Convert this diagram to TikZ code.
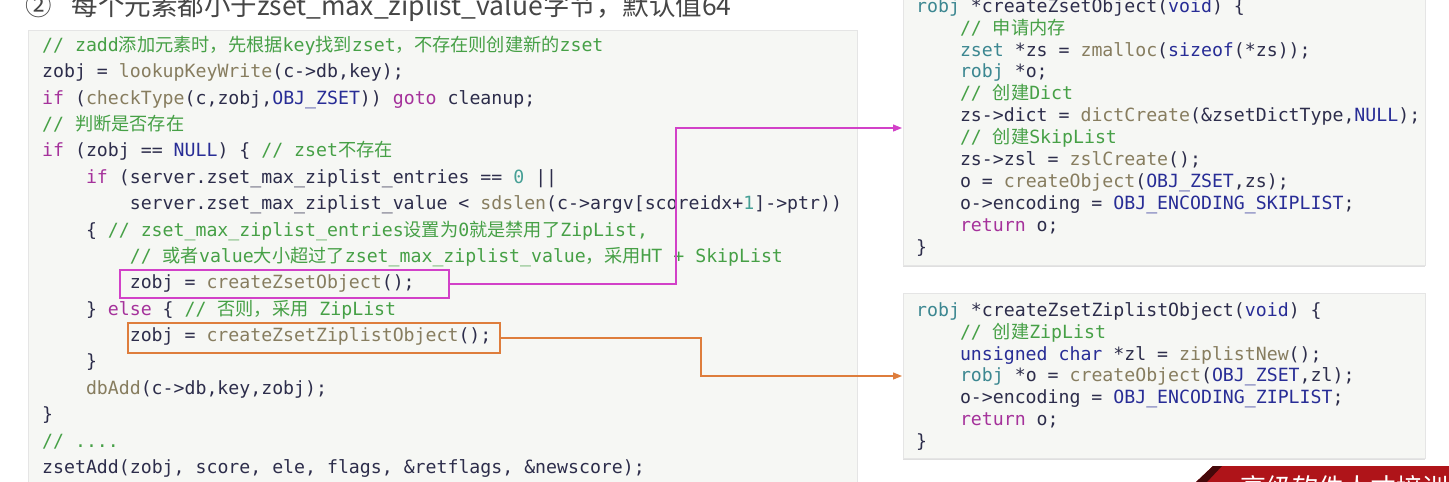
\documentclass[tikz,border=0pt]{standalone}
\usepackage{fontspec}
\setmonofont{DejaVu Sans Mono}
\newfontfamily\cjk{Noto Sans CJK SC}
\usetikzlibrary{positioning, arrows.meta, shadows}

\definecolor{cmt}{RGB}{70,160,70}
\definecolor{kwd}{RGB}{165,50,155}
\definecolor{fnc}{RGB}{135,125,95}
\definecolor{cst}{RGB}{40,45,150}
\definecolor{num}{RGB}{70,160,150}
\definecolor{typ}{RGB}{60,135,145}
\definecolor{idt}{RGB}{45,45,75}
\definecolor{paper}{RGB}{246,247,244}
\definecolor{headgray}{RGB}{70,70,70}
\definecolor{mag}{RGB}{210,65,200}
\definecolor{org}{RGB}{222,125,60}
\definecolor{banner}{RGB}{175,20,25}

\newcommand\zh[1]{{\cjk #1}}
\newcommand\ckw[1]{\textcolor{kwd}{#1}}
\newcommand\cfn[1]{\textcolor{fnc}{#1}}
\newcommand\ccst[1]{\textcolor{cst}{#1}}
\newcommand\cnum[1]{\textcolor{num}{#1}}
\newcommand\ctyp[1]{\textcolor{typ}{#1}}
\newcommand\ccmt[1]{\textcolor{cmt}{#1}}
\newcommand\ind{\hspace*{43.8pt}}
% full-width spaces in the code, and a fixed first line height
\newcommand\firstline{\spaceskip=10.96pt\xspaceskip=10.96pt\relax\rule{0pt}{17pt}}

\begin{document}
\begin{tikzpicture}[x=1pt, y=-1pt,
    panel/.style={fill=paper, draw=black!10, anchor=north west, inner sep=0pt,
      drop shadow={shadow xshift=0pt, shadow yshift=-2pt, opacity=.25}},
    src/.style={anchor=north west, inner sep=0pt, text=idt, align=left,
      font=\ttfamily\fontsize{18.2}{#1}\selectfont},
    src/.default=26.4,
    headtxt/.style={anchor=base west, inner sep=0pt, text=headgray,
      font=\cjk\fontsize{26.5}{26.5}\selectfont},
    hl/.style={draw, line width=1.8pt, inner sep=0pt},
    link/.style={line width=1.2pt, -{Triangle[length=9pt, width=7pt]}}]
\useasboundingbox (0,0) rectangle (1449,482);
\clip (0,0) rectangle (1449,482);
\fill[white] (0,0) rectangle (1449,482);

\node[headtxt] (heading) at (25,15) {②\hspace{20pt}每个元素都小于zset\_max\_ziplist\_value字节，默认值64};

% code panels
\node[panel, minimum width=829pt, minimum height=480pt] (box_main) at (28,30) {};
\node[panel, minimum width=522pt, minimum height=275pt] (box_zs) at (903,-10) {};
\node[panel, minimum width=522pt, minimum height=165pt] (box_zl) at (903,293) {};

\node[src, text width=810pt, below right=4pt and 14pt of box_main.north west] (code_main) {%
\firstline\ccmt{// zadd\zh{添加元素时，先根据}key\zh{找到}zset\zh{，不存在则创建新的}zset}\\
zobj = \cfn{lookupKeyWrite}(c->db,key);\\
\ckw{if} (\cfn{checkType}(c,zobj,\ccst{OBJ\_ZSET})) \ckw{goto} cleanup;\\
\ccmt{// \zh{判断是否存在}}\\
\ckw{if} (zobj == \ccst{NULL}) \{ \ccmt{// zset\zh{不存在}}\\
\ind\ckw{if} (server.zset\_max\_ziplist\_entries == \cnum{0} ||\\
\ind\ind server.zset\_max\_ziplist\_value < \cfn{sdslen}(c->argv[scoreidx+\cnum{1}]->ptr))\\
\ind\{ \ccmt{// zset\_max\_ziplist\_entries\zh{设置为}0\zh{就是禁用了}ZipList,}\\
\ind\ind\ccmt{// \zh{或者}value\zh{大小超过了}zset\_max\_ziplist\_value\zh{，采用}HT + SkipList}\\
\ind\ind zobj = \cfn{createZsetObject}();\\
\ind\} \ckw{else} \{ \ccmt{// \zh{否则，采用} ZipList}\\
\ind\ind zobj = \cfn{createZsetZiplistObject}();\\
\ind\}\\
\ind\cfn{dbAdd}(c->db,key,zobj);\\
\}\\
\ccmt{// ....}\\
zsetAdd(zobj, score, ele, flags, \&retflags, \&newscore);};

\node[src=21.9, text width=505pt, below right=5pt and 13pt of box_zs.north west] (code_zs) {%
\firstline\ctyp{robj} *createZsetObject(\ccst{void}) \{\\
\ind\ccmt{// \zh{申请内存}}\\
\ind\ctyp{zset} *zs = \cfn{zmalloc}(\ccst{sizeof}(*zs));\\
\ind\ctyp{robj} *o;\\
\ind\ccmt{// \zh{创建}Dict}\\
\ind zs->dict = \cfn{dictCreate}(\&zsetDictType,\ccst{NULL});\\
\ind\ccmt{// \zh{创建}SkipList}\\
\ind zs->zsl = \cfn{zslCreate}();\\
\ind o = \cfn{createObject}(\ccst{OBJ\_ZSET},zs);\\
\ind o->encoding = \ccst{OBJ\_ENCODING\_SKIPLIST};\\
\ind\ckw{return} o;\\
\}};

\node[src=21.9, text width=505pt, below right=6pt and 13pt of box_zl.north west] (code_zl) {%
\firstline\ctyp{robj} *createZsetZiplistObject(\ccst{void}) \{\\
\ind\ccmt{// \zh{创建}ZipList}\\
\ind\ccst{unsigned char} *zl = \cfn{ziplistNew}();\\
\ind\ctyp{robj} *o = \cfn{createObject}(\ccst{OBJ\_ZSET},zl);\\
\ind o->encoding = \ccst{OBJ\_ENCODING\_ZIPLIST};\\
\ind\ckw{return} o;\\
\}};

% highlighted calls and links
\node[hl, draw=mag, minimum width=329pt, minimum height=28pt] (hl_zs) at (284.5,284) {};
\node[hl, draw=org, minimum width=372pt, minimum height=30pt] (hl_zl) at (314,338) {};
\coordinate (in_zs) at (902,128);
\coordinate (in_zl) at (902,376);
\draw[link, mag] (hl_zs.east) -| ([xshift=-226pt]in_zs) -- (in_zs);
\draw[link, org] (hl_zl.east) -| ([xshift=-201pt]in_zl) -- (in_zl);

% watermark
\fill[banner] (1195,483) -- (1213,466) -- (1450,466) -- (1450,483) -- cycle;
\fill[black!60!banner] (1195,483) -- (1213,466) -- (1222,466) -- (1206,483) -- cycle;
\node[anchor=base west, inner sep=0pt, text=white, font=\cjk\fontsize{26}{26}\selectfont] (mark) at (1240,497) {高级软件人才培训};
\end{tikzpicture}
\end{document}
